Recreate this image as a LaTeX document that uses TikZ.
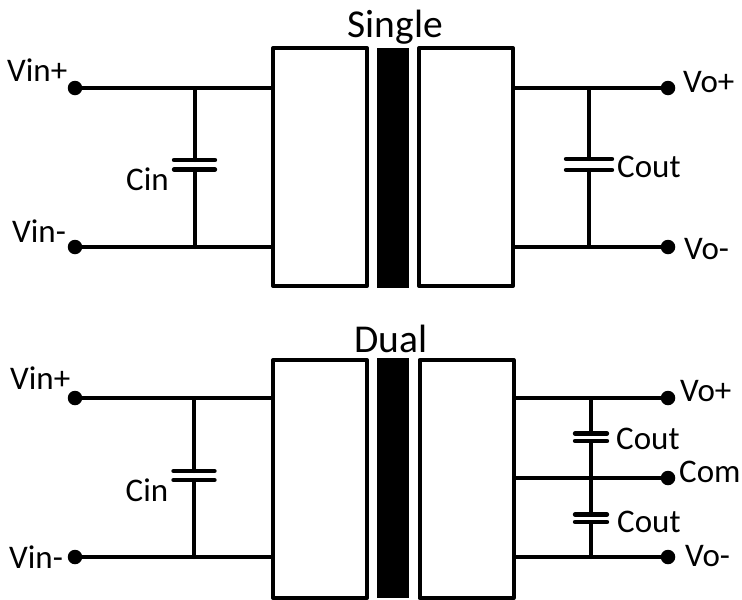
\documentclass[tikz,border=0pt]{standalone}
\usepackage{fontspec}
\setmainfont{Carlito}
\tikzset{
  wire/.style={line width=4pt,line cap=round,line join=round,black},
  plate/.style={line width=4.4pt,line cap=round,black},
  blockbox/.style={draw=black,fill=white,line width=4pt,line join=round,minimum width=94pt,minimum height=238pt,inner sep=0pt},
  corebar/.style={fill=black,minimum width=32pt,minimum height=240pt,inner sep=0pt},
  terminal/.style={circle,fill=black,minimum size=14.5pt,inner sep=0pt},
  lbl/.style={anchor=base west,inner sep=0pt,font=\fontsize{33}{36}\selectfont},
  title/.style={anchor=base west,inner sep=0pt,font=\fontsize{39.5}{42}\selectfont}
}
\begin{document}
\begin{tikzpicture}[x=1pt,y=-1pt]
\useasboundingbox (0,0) rectangle (742,600);
% ---- Single ----
\node[title] (tS) at (347.5,37) {Single};
\node[blockbox] (bSL) at (320,167) {};
\node[corebar] (cS) at (393,168) {};
\node[blockbox] (bSR) at (466,167) {};
\node[terminal] (SVip) at (75,88) {};
\node[terminal] (SVim) at (75,247) {};
\node[terminal] (SVop) at (668,88) {};
\node[terminal] (SVom) at (668,247) {};
\draw[wire] (SVip) -- (SVip -| bSL.west);
\draw[wire] (SVim) -- (SVim -| bSL.west);
\draw[wire] (SVop) -- (SVop -| bSR.east);
\draw[wire] (SVom) -- (SVom -| bSR.east);
\coordinate (SCiT) at (194.5,88);
\coordinate (SCiB) at (194.5,247);
\coordinate (SCia) at (194.5,160);
\coordinate (SCib) at (194.5,169.5);
\draw[wire] (SCiT) -- (SCia);
\draw[wire] (SCib) -- (SCiB);
\draw[plate] ([xshift=-20.5pt]SCia) -- ([xshift=20.5pt]SCia);
\draw[plate] ([xshift=-20.5pt]SCib) -- ([xshift=20.5pt]SCib);
\coordinate (SCoT) at (589,88);
\coordinate (SCoB) at (589,247);
\coordinate (SCoa) at (589,159);
\coordinate (SCob) at (589,170);
\draw[wire] (SCoT) -- (SCoa);
\draw[wire] (SCob) -- (SCoB);
\draw[plate] ([xshift=-23pt]SCoa) -- ([xshift=23pt]SCoa);
\draw[plate] ([xshift=-23pt]SCob) -- ([xshift=23pt]SCob);
\node[lbl] (lSVip) at (7,81) {Vin+};
\node[lbl] (lSVim) at (12,242) {Vin-};
\node[lbl] (lSCi) at (126,190) {Cin};
\node[lbl] (lSCo) at (617,177) {Cout};
\node[lbl] (lSVop) at (683,92) {Vo+};
\node[lbl] (lSVom) at (684,259) {Vo-};
% ---- Dual ----
\node[title] (tD) at (354,352) {Dual};
\node[blockbox] (bDL) at (320,479) {};
\node[corebar] (cD) at (393,477.5) {};
\node[blockbox] (bDR) at (466.5,479) {};
\node[terminal] (DVip) at (75,398) {};
\node[terminal] (DVim) at (75,557) {};
\node[terminal] (DVop) at (668,398) {};
\node[terminal] (DCom) at (668,478) {};
\node[terminal] (DVom) at (668,557) {};
\draw[wire] (DVip) -- (DVip -| bDL.west);
\draw[wire] (DVim) -- (DVim -| bDL.west);
\draw[wire] (DVop) -- (DVop -| bDR.east);
\draw[wire] (DCom) -- (DCom -| bDR.east);
\draw[wire] (DVom) -- (DVom -| bDR.east);
\coordinate (DCiT) at (194,398);
\coordinate (DCiB) at (194,557);
\coordinate (DCia) at (194,471);
\coordinate (DCib) at (194,480);
\draw[wire] (DCiT) -- (DCia);
\draw[wire] (DCib) -- (DCiB);
\draw[plate] ([xshift=-20.5pt]DCia) -- ([xshift=20.5pt]DCia);
\draw[plate] ([xshift=-20.5pt]DCib) -- ([xshift=20.5pt]DCib);
\coordinate (DCoT) at (591,398);
\coordinate (DCoM) at (591,478);
\coordinate (DCoB) at (591,557);
\coordinate (DCa) at (591,433.5);
\coordinate (DCb) at (591,441);
\coordinate (DCc) at (591,514.5);
\coordinate (DCd) at (591,522);
\draw[wire] (DCoT) -- (DCa);
\draw[wire] (DCb) -- (DCc);
\draw[wire] (DCd) -- (DCoB);
\draw[plate] ([xshift=-16pt]DCa) -- ([xshift=16pt]DCa);
\draw[plate] ([xshift=-16pt]DCb) -- ([xshift=16pt]DCb);
\draw[plate] ([xshift=-16pt]DCc) -- ([xshift=16pt]DCc);
\draw[plate] ([xshift=-16pt]DCd) -- ([xshift=16pt]DCd);
\node[lbl] (lDVip) at (10,389) {Vin+};
\node[lbl] (lDVim) at (9,568) {Vin-};
\node[lbl] (lDCi) at (125.5,501) {Cin};
\node[lbl] (lDCo1) at (616,449) {Cout};
\node[lbl] (lDCom) at (679,482) {Com};
\node[lbl] (lDCo2) at (617,532) {Cout};
\node[lbl] (lDVop) at (680,401) {Vo+};
\node[lbl] (lDVom) at (685,566) {Vo-};
\end{tikzpicture}
\end{document}
